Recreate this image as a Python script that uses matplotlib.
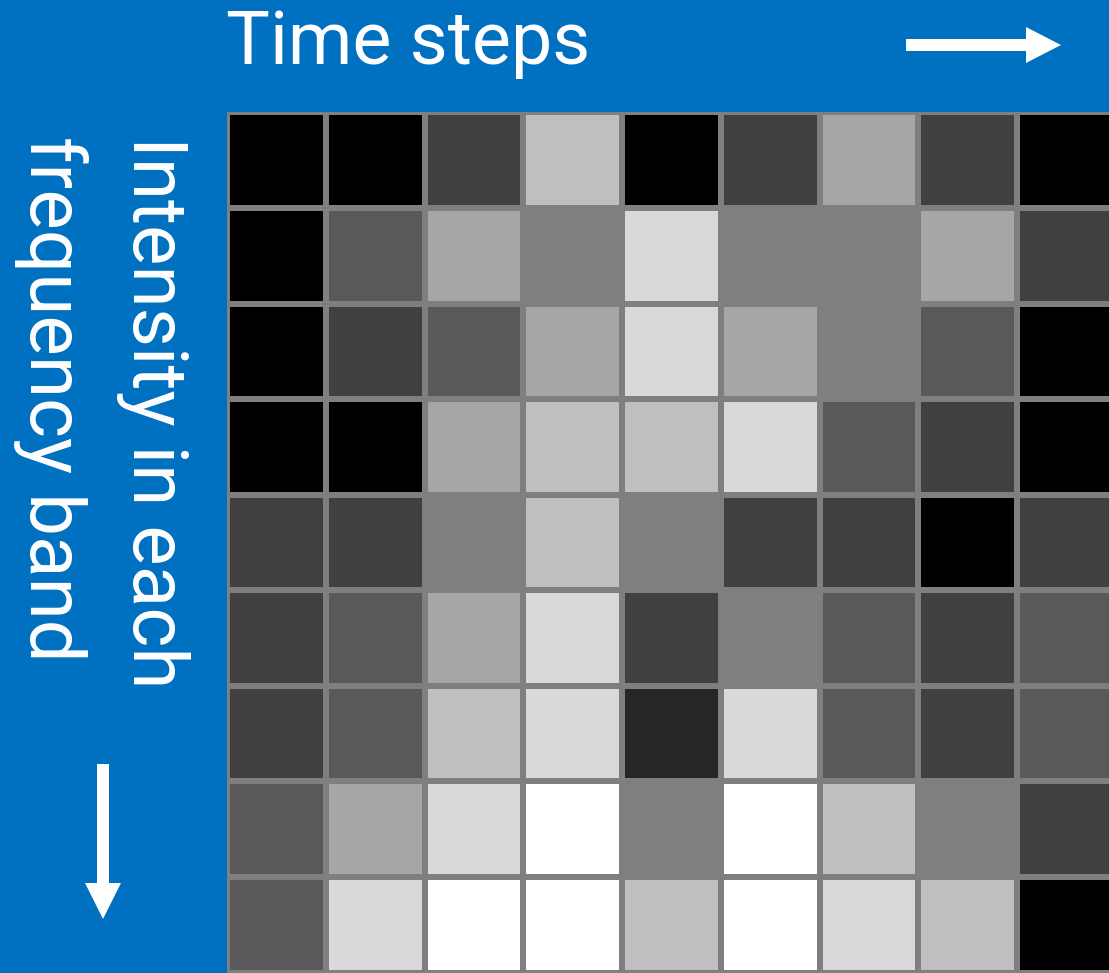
import matplotlib
matplotlib.use("Agg")
import matplotlib.pyplot as plt
import numpy as np

# gray level of each cell (0 = black, 255 = white), rows = frequency bands, cols = time steps
row0 = [0, 0, 64, 191, 0, 64, 166, 64, 0]
row1 = [0, 89, 166, 128, 217, 128, 128, 166, 64]
row2 = [0, 64, 89, 166, 217, 166, 128, 89, 0]
row3 = [0, 0, 166, 191, 191, 217, 89, 64, 0]
row4 = [64, 64, 128, 191, 128, 64, 64, 0, 64]
row5 = [64, 89, 166, 217, 64, 128, 89, 64, 89]
row6 = [64, 89, 191, 217, 38, 217, 89, 64, 89]
row7 = [89, 166, 217, 255, 128, 255, 191, 128, 64]
row8 = [89, 217, 255, 255, 191, 255, 217, 191, 0]
intensity = np.array([row0, row1, row2, row3, row4, row5, row6, row7, row8])

title_x = "Time steps"
title_y1 = "Intensity in each"
title_y2 = "frequency band"

blue = "#0070C0"
W, H = 1109, 973
fig = plt.figure(figsize=(W / 100, H / 100), dpi=100)
fig.patch.set_facecolor(blue)

# background axes in pixel units for the labels and arrows
bg = fig.add_axes([0, 0, 1, 1])
bg.set_xlim(0, W)
bg.set_ylim(H, 0)
bg.axis("off")

font = dict(family=["Roboto", "DejaVu Sans"], fontweight="normal", color="white")
bg.text(226, 64, title_x, ha="left", va="baseline", fontsize=53, **font)
bg.text(133, 136, title_y1, ha="left", va="baseline", rotation=-90,
        rotation_mode="anchor", fontsize=55, **font)
bg.text(30, 136, title_y2, ha="left", va="baseline", rotation=-90,
        rotation_mode="anchor", fontsize=55, **font)

bg.arrow(906, 45, 155, 0, width=12, head_width=36, head_length=35,
         length_includes_head=True, color="white", linewidth=0)
bg.arrow(103, 764, 0, 155, width=12, head_width=36, head_length=36,
         length_includes_head=True, color="white", linewidth=0)

# the grid of cells
px_w, px_h = 98.7, 95.57
ax = fig.add_axes([227.3 / W, (H - 112.4 - 9 * px_h) / H, 9 * px_w / W, 9 * px_h / H])
ax.pcolormesh(intensity, cmap="gray", vmin=0, vmax=255,
              edgecolors="#7f7f7f", linewidth=6 * 72 / 100)
ax.set_xlim(0, 9)
ax.set_ylim(9, 0)
ax.axis("off")

fig.savefig("out.png", dpi=100, facecolor=blue)
